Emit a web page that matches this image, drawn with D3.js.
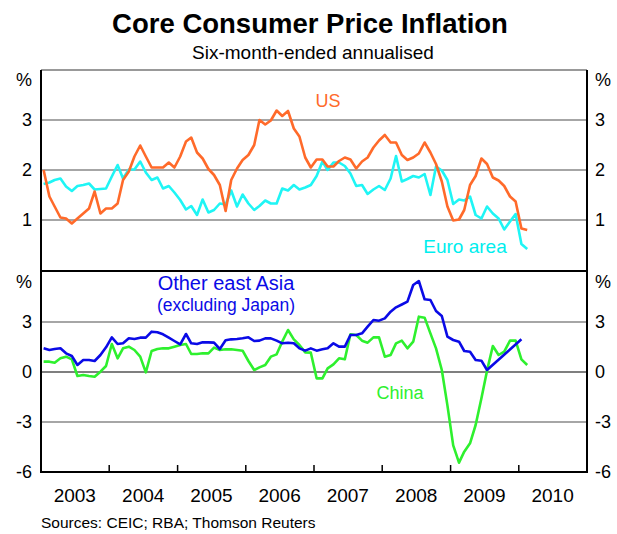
<!DOCTYPE html>
<html>
<head>
    <meta http-equiv="Content-Type" content="text/html; charset=utf-8">
    <script src="https://cdnjs.cloudflare.com/ajax/libs/d3/7.8.5/d3.min.js"></script>
    <style>
        body { margin: 0; background: #fff; }
        text { font-family: "Liberation Sans", Arial, sans-serif; }
    </style>
</head>
<body>

<div class="chart"></div>

<script type="text/javascript">

    //-------------------------------------------- DATA (monthly, Jan 2003 onwards)

    var startYear = 2003;
    var yearLabels = ["2003", "2004", "2005", "2006", "2007", "2008", "2009", "2010"];
    var topTicks = [1, 2, 3];
    var bottomTicks = [-6, -3, 0, 3];

    var usValues = [2.0, 1.47, 1.27, 1.05, 1.03, 0.93, 1.03, 1.13, 1.23, 1.57, 1.13, 1.23,
        1.23, 1.33, 1.8, 1.97, 2.27, 2.49, 2.27, 2.05, 2.05, 2.05, 2.15, 2.05,
        2.27, 2.57, 2.65, 2.35, 2.23, 2.02, 1.9, 1.7, 1.18, 1.8, 2.03, 2.2,
        2.3, 2.5, 3.0, 2.91, 2.99, 3.19, 3.08, 3.18, 2.83, 2.67, 2.25, 2.05,
        2.21, 2.21, 2.07, 2.07, 2.18, 2.25, 2.21, 2.03, 2.17, 2.25, 2.45, 2.59,
        2.7, 2.55, 2.55, 2.3, 2.2, 2.25, 2.33, 2.55, 2.35, 2.12, 1.77, 1.27,
        0.99, 1.01, 1.2, 1.7, 1.88, 2.23, 2.12, 1.85, 1.79, 1.68, 1.47, 1.37,
        0.83, 0.8];

    var euroValues = [1.72, 1.75, 1.8, 1.83, 1.67, 1.58, 1.68, 1.7, 1.73, 1.61, 1.62, 1.63,
        1.87, 2.1, 1.83, 2.01, 2.01, 2.17, 1.95, 1.8, 1.85, 1.63, 1.68, 1.55,
        1.4, 1.21, 1.28, 1.1, 1.41, 1.15, 1.2, 1.33, 1.31, 1.59, 1.27, 1.51,
        1.33, 1.2, 1.28, 1.39, 1.33, 1.33, 1.63, 1.59, 1.7, 1.61, 1.65, 1.7,
        1.88, 2.17, 2.0, 2.15, 2.15, 2.08, 1.93, 1.68, 1.7, 1.52, 1.61, 1.68,
        1.6, 1.83, 2.28, 1.77, 1.82, 1.88, 1.85, 1.92, 1.5, 2.07, 1.99, 1.8,
        1.32, 1.41, 1.39, 1.47, 1.1, 1.03, 1.27, 1.13, 1.03, 0.81, 0.97, 1.12,
        0.52, 0.42];

    // null = no observation, the line just joins the neighbours
    var asiaValues = [1.42, 1.32, 1.38, 1.42, 1.12, 0.96, 0.42, 0.72, 0.72, 0.66, 1.02, 1.48,
        2.08, 1.68, 1.72, 2.02, 1.98, 2.06, 2.06, 2.42, 2.38, 2.26, 2.06, 1.86,
        1.66, 2.28, 1.72, 1.68, 1.78, 1.78, 1.76, 1.38, 1.9, 1.96, 1.98, 2.02,
        2.08, 1.86, 1.88, 2.02, 2.02, 1.88, 1.72, 1.76, 1.72, 1.42, 1.28, 1.42,
        1.28, 1.36, 1.42, 1.72, 1.52, 1.52, 2.22, 2.22, 2.32, 2.72, 3.12, 3.08,
        3.22, 3.62, 3.88, 4.05, 4.22, 5.22, 5.46, 4.36, 4.32, 3.66, 3.36, 2.12,
        1.92, 1.82, 1.26, 1.22, 0.72, 0.68, 0.12, null, null, null, null, null,
        1.96, null];

    var chinaValues = [0.62, 0.62, 0.56, 0.82, 0.92, 0.76, -0.24, -0.18, -0.24, -0.28, 0.02, 0.36,
        1.68, 0.82, 1.42, 1.52, 1.32, 0.92, -0.02, 1.26, 1.38, 1.42, 1.42, 1.52,
        1.62, 1.68, 1.08, 1.08, 1.12, 1.12, 1.46, 1.32, 1.36, 1.36, 1.32, 1.28,
        0.66, 0.12, 0.28, 0.42, 0.92, 1.06, 1.82, 2.52, 1.96, 1.62, 1.18, 1.16,
        -0.38, -0.38, 0.22, 0.46, 0.82, 0.76, 2.26, 2.22, 1.88, 1.76, 2.08, 2.08,
        0.92, 1.02, 1.72, 1.88, 1.42, 1.82, 3.32, 3.26, 2.32, 1.42, 0.12, -2.0,
        -4.4, -5.44, -4.78, -4.28, -3.18, -1.58, 0.08, 1.56, 1.02, 1.22, 1.88, 1.88,
        0.76, 0.42];

    //-------------------------------------------- SVG definition

    var width = 617;
    var height = 534;
    var left = 41;
    var right = 587;

    var svg = d3.select("div.chart")
        .append("svg")
        .attr("width", width)
        .attr("height", height);

    var x = d3.scaleTime()
        .domain([new Date(startYear, 0, 1), new Date(2011, 0, 1)])
        .range([left, right]);

    var yTop = d3.scaleLinear().domain([0, 4]).range([270, 70]);
    var yBot = d3.scaleLinear().domain([-6, 6]).range([472, 272]);

    function toPoints(values) {
        return values
            .map(function(v, i) { return {date: new Date(startYear, i, 15), value: v}; })
            .filter(function(d) { return d.value !== null; });
    }

    //-------------------------------------------- TITLES

    svg.append("text")
        .attr("x", 310).attr("y", 33)
        .attr("text-anchor", "middle")
        .attr("font-size", 27.5).attr("font-weight", "bold")
        .text("Core Consumer Price Inflation");

    svg.append("text")
        .attr("x", 313).attr("y", 59)
        .attr("text-anchor", "middle")
        .attr("font-size", 19)
        .text("Six-month-ended annualised");

    //-------------------------------------------- GRID

    var grid = svg.append("g");

    grid.selectAll("line.top")
        .data(topTicks)
        .enter().append("line")
        .attr("x1", left).attr("x2", right)
        .attr("y1", function(d) { return yTop(d); })
        .attr("y2", function(d) { return yTop(d); })
        .attr("stroke", "#888").attr("stroke-width", 1.5);

    grid.selectAll("line.bot")
        .data(bottomTicks.filter(function(d) { return d > -6; }))
        .enter().append("line")
        .attr("x1", left).attr("x2", right)
        .attr("y1", function(d) { return yBot(d); })
        .attr("y2", function(d) { return yBot(d); })
        .attr("stroke", function(d) { return d === 0 ? "#000" : "#888"; })
        .attr("stroke-width", function(d) { return d === 0 ? 1.2 : 1.5; });

    //-------------------------------------------- AXES LABELS

    function styleAxis(g) {
        g.select(".domain").remove();
        g.selectAll("text")
            .attr("font-family", "Liberation Sans, Arial, sans-serif")
            .attr("font-size", 18)
            .attr("fill", "#000");
    }

    var fmt = function(d) { return String(d); };

    svg.append("g").attr("transform", "translate(" + left + ",0)")
        .call(d3.axisLeft(yTop).tickValues(topTicks).tickSize(0).tickPadding(9).tickFormat(fmt))
        .call(styleAxis);
    svg.append("g").attr("transform", "translate(" + right + ",0)")
        .call(d3.axisRight(yTop).tickValues(topTicks).tickSize(0).tickPadding(8).tickFormat(fmt))
        .call(styleAxis);
    svg.append("g").attr("transform", "translate(" + left + ",0)")
        .call(d3.axisLeft(yBot).tickValues(bottomTicks).tickSize(0).tickPadding(9).tickFormat(fmt))
        .call(styleAxis);
    svg.append("g").attr("transform", "translate(" + right + ",0)")
        .call(d3.axisRight(yBot).tickValues(bottomTicks).tickSize(0).tickPadding(8).tickFormat(fmt))
        .call(styleAxis);

    // percent signs
    [yTop(3.8), yBot(5.4)].forEach(function(yy) {
        svg.append("text").attr("x", left - 9).attr("y", yy).attr("dy", "0.32em")
            .attr("text-anchor", "end").attr("font-size", 18).text("%");
        svg.append("text").attr("x", right + 8).attr("y", yy).attr("dy", "0.32em")
            .attr("font-size", 18).text("%");
    });

    // years
    svg.selectAll("text.year")
        .data(yearLabels)
        .enter().append("text")
        .attr("class", "year")
        .attr("x", function(d) { return x(new Date(+d, 6, 1)); })
        .attr("y", 502)
        .attr("text-anchor", "middle")
        .attr("font-size", 19)
        .text(function(d) { return d; });

    //-------------------------------------------- LINES

    var lineTop = d3.line()
        .x(function(d) { return x(d.date); })
        .y(function(d) { return yTop(d.value); });

    var lineBot = d3.line()
        .x(function(d) { return x(d.date); })
        .y(function(d) { return yBot(d.value); });

    var series = [
        {values: euroValues, line: lineTop, color: "#1ff5f5"},
        {values: usValues, line: lineTop, color: "#ff6a2a"},
        {values: chinaValues, line: lineBot, color: "#2ef02e"},
        {values: asiaValues, line: lineBot, color: "#0a0ae6"}
    ];

    series.forEach(function(s) {
        svg.append("path")
            .datum(toPoints(s.values))
            .attr("d", s.line)
            .attr("fill", "none")
            .attr("stroke", s.color)
            .attr("stroke-width", 2.6)
            .attr("stroke-linejoin", "round");
    });

    //-------------------------------------------- FRAME

    var frame = svg.append("g").attr("stroke", "#000");
    frame.append("line").attr("x1", left).attr("x2", right).attr("y1", 70).attr("y2", 70)
        .attr("stroke", "#777").attr("stroke-width", 1.5);
    frame.append("line").attr("x1", left).attr("x2", right).attr("y1", 271).attr("y2", 271)
        .attr("stroke-width", 2);
    frame.append("line").attr("x1", left).attr("x2", right).attr("y1", 472).attr("y2", 472)
        .attr("stroke-width", 2);
    frame.append("line").attr("x1", left).attr("x2", left).attr("y1", 70).attr("y2", 473)
        .attr("stroke-width", 2);
    frame.append("line").attr("x1", right).attr("x2", right).attr("y1", 70).attr("y2", 473)
        .attr("stroke-width", 2);

    frame.selectAll("line.tick")
        .data(yearLabels.slice(1))
        .enter().append("line")
        .attr("x1", function(d) { return x(new Date(+d, 0, 1)); })
        .attr("x2", function(d) { return x(new Date(+d, 0, 1)); })
        .attr("y1", 472).attr("y2", 465)
        .attr("stroke-width", 1.5);

    //-------------------------------------------- SERIES LABELS

    var labels = [
        {text: "US", x: 328, y: 107, size: 18, color: "#ff6a2a"},
        {text: "Euro area", x: 465, y: 253, size: 19, color: "#00eeee"},
        {text: "Other east Asia", x: 226, y: 290, size: 20, color: "#0a0ae6"},
        {text: "(excluding Japan)", x: 226, y: 311, size: 17.5, color: "#0a0ae6"},
        {text: "China", x: 400, y: 399, size: 18, color: "#2ef02e"}
    ];

    svg.selectAll("text.label")
        .data(labels)
        .enter().append("text")
        .attr("class", "label")
        .attr("x", function(d) { return d.x; })
        .attr("y", function(d) { return d.y; })
        .attr("text-anchor", "middle")
        .attr("font-size", function(d) { return d.size; })
        .attr("fill", function(d) { return d.color; })
        .text(function(d) { return d.text; });

    svg.append("text")
        .attr("x", left).attr("y", 528)
        .attr("font-size", 15.5)
        .text("Sources: CEIC; RBA; Thomson Reuters");

</script>
</body>
</html>
